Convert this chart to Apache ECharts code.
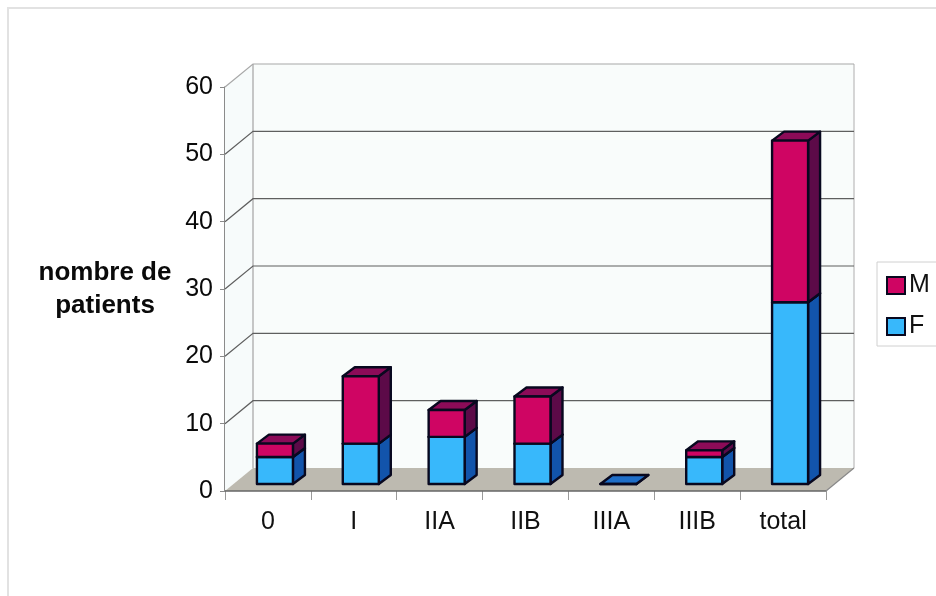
<!DOCTYPE html>
<html>
<head>
<meta charset="utf-8">
<style>html,body{margin:0;padding:0;background:#fff}#c{width:936px;height:596px}</style>
<script src="https://cdn.jsdelivr.net/npm/echarts@6/dist/echarts.min.js"></script>
</head>
<body>
<div id="c"></div>
<script>
// Patient counts per stage, stacked by sex
const categories = ['0', 'I', 'IIA', 'IIB', 'IIIA', 'IIIB', 'total'];
const femmes = [4, 6, 7, 6, 0, 4, 27];
const hommes = [2, 10, 4, 7, 0, 1, 24];
const yTicks = [0, 10, 20, 30, 40, 50, 60];

// Oblique projection of the chart box: full floor depth and bar depth, in pixels
const DEPTH = { x: 28, y: 23 };
const BAR_DEPTH = { x: 12, y: 9 };
const BAR_INSET = { x: 7, y: 7 };
const BAR_WIDTH = 36;
const OUTLINE = '#08081f';

const poly = (points, fill, stroke, lw) => ({
  type: 'polygon',
  shape: { points },
  style: { fill, stroke: stroke || 'none', lineWidth: lw || 0, lineJoin: 'round' }
});
const line = (points, stroke, lw) => ({
  type: 'polyline',
  shape: { points },
  style: { fill: 'none', stroke, lineWidth: lw }
});

// Back wall, side wall and floor, with the gridlines folded across both walls
function renderFrame(params, api) {
  const cs = params.coordSys;
  const x0 = cs.x, x1 = cs.x + cs.width;
  const yTop = cs.y, yBot = cs.y + cs.height;
  const dx = DEPTH.x, dy = DEPTH.y;
  const children = [
    poly([[x0 + dx, yTop - dy], [x1 + dx, yTop - dy], [x1 + dx, yBot - dy], [x0 + dx, yBot - dy]], '#f9fcfb'),
    poly([[x0, yTop], [x0 + dx, yTop - dy], [x0 + dx, yBot - dy], [x0, yBot]], '#f7fbfb'),
    line([[x1 + dx, yTop - dy], [x1 + dx, yBot - dy]], '#c8c8c8', 1.5),
    line([[x0 + dx, yTop - dy], [x0 + dx, yBot - dy]], '#b4b4b4', 1.5)
  ];
  yTicks.forEach(v => {
    if (v === 0) return;
    const y = api.coord([0, v])[1];
    children.push(line([[x0, y], [x0 + dx, y - dy], [x1 + dx, y - dy]], v === 60 ? '#a8a8a8' : '#5f5f5f', 1.2));
  });
  children.push(poly([[x0, yBot], [x0 + dx, yBot - dy], [x1 + dx, yBot - dy], [x1, yBot]], '#bdbab0'));
  children.push(line([[x0, yBot], [x1, yBot]], '#666666', 1.6));
  children.push(line([[x1, yBot], [x1 + dx, yBot - dy]], '#888888', 1.2));
  return { type: 'group', children };
}

// One box of a stacked bar: front, side and top faces
function makeBox(colors) {
  return function (params, api) {
    const idx = api.value(0), from = api.value(1), to = api.value(2);
    const cx = api.coord([idx, 0])[0] + BAR_INSET.x;
    const l = cx - BAR_WIDTH / 2, r = cx + BAR_WIDTH / 2;
    const yb = api.coord([idx, from])[1] - BAR_INSET.y;
    const yt = api.coord([idx, to])[1] - BAR_INSET.y;
    const bx = BAR_DEPTH.x, by = BAR_DEPTH.y;
    const lw = 2.4;
    return {
      type: 'group',
      children: [
        poly([[r, yb], [r + bx, yb - by], [r + bx, yt - by], [r, yt]], colors.side, OUTLINE, lw),
        poly([[l, yt], [l + bx, yt - by], [r + bx, yt - by], [r, yt]], colors.top, OUTLINE, lw),
        poly([[l, yb], [r, yb], [r, yt], [l, yt]], colors.front, OUTLINE, lw)
      ]
    };
  };
}

const BLUE = { front: '#38b8fb', side: '#1254ab', top: '#1f6ec8' };
const MAGENTA = { front: '#cf0563', side: '#5c0a48', top: '#8c0b58' };

const fData = femmes.map((v, i) => [i, 0, v]);
// The male box is only drawn where there is at least one patient
const mData = hommes.map((v, i) => [i, femmes[i], femmes[i] + v]).filter(d => d[2] > d[1]);

const chart = echarts.init(document.getElementById('c'), null, { renderer: 'canvas' });
chart.setOption({
  animation: false,
  backgroundColor: '#ffffff',
  textStyle: { fontFamily: '"Liberation Sans", Arial, sans-serif' },
  graphic: [
    { type: 'polyline', silent: true, shape: { points: [[8, 596], [8, 8], [936, 8]] }, style: { fill: 'none', stroke: '#e2e2e2', lineWidth: 2 } }
  ],
  grid: { left: 225, top: 87, width: 601, height: 404, outerBoundsMode: 'none' },
  xAxis: {
    type: 'category',
    data: categories,
    axisLine: { show: false },
    axisTick: { show: true, length: 9, lineStyle: { color: '#9a9a9a', width: 1 } },
    axisLabel: { color: '#111', fontSize: 25, margin: 19 }
  },
  yAxis: {
    type: 'value',
    min: 0,
    max: 60,
    interval: 10,
    name: 'nombre de\npatients',
    nameLocation: 'middle',
    nameRotate: 0,
    nameGap: 120,
    nameTextStyle: { fontSize: 26, fontWeight: 'bold', color: '#0a0a0a', lineHeight: 33, align: 'center' },
    splitLine: { show: false },
    axisLine: { show: true, lineStyle: { color: '#6e6e6e', width: 1.6 } },
    axisTick: { show: true, length: 5, lineStyle: { color: '#8a8a8a', width: 1 } },
    axisLabel: { color: '#0a0a0a', fontSize: 25, margin: 12 }
  },
  legend: {
    orient: 'vertical',
    left: 877,
    top: 262,
    data: [
      { name: 'M', itemStyle: { color: MAGENTA.front, borderColor: OUTLINE, borderWidth: 2 } },
      { name: 'F', itemStyle: { color: BLUE.front, borderColor: OUTLINE, borderWidth: 2 } }
    ],
    icon: 'rect',
    itemWidth: 18,
    itemHeight: 17,
    itemGap: 16,
    padding: [11, 20, 7, 9],
    borderColor: '#d0d0d0',
    borderWidth: 1,
    backgroundColor: '#fff',
    textStyle: { fontSize: 25, color: '#111', padding: [0, 0, 0, -1] }
  },
  series: [
    { name: 'fond', type: 'custom', z: 1, silent: true, data: [[0]], clip: false, renderItem: renderFrame },
    { name: 'F', type: 'custom', z: 3, silent: true, data: fData, encode: { x: 0, y: 2 }, renderItem: makeBox(BLUE), itemStyle: { color: BLUE.front } },
    { name: 'M', type: 'custom', z: 4, silent: true, data: mData, encode: { x: 0, y: 2 }, renderItem: makeBox(MAGENTA), itemStyle: { color: MAGENTA.front } }
  ]
});
</script>
</body>
</html>
